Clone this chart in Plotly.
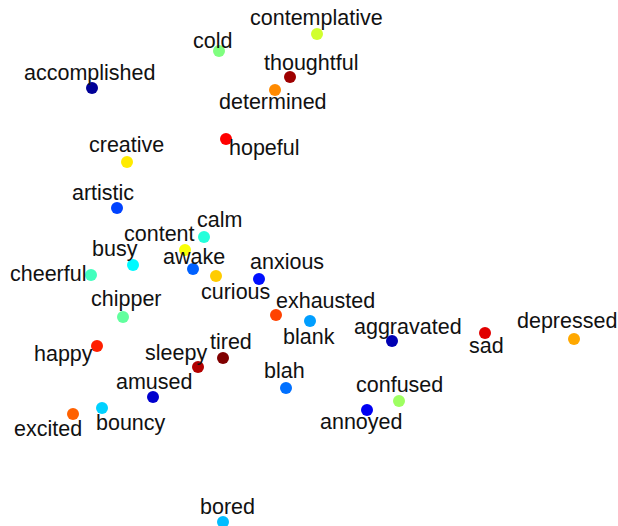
import plotly.graph_objects as go

# mood words, 2-d embedding coords and colour value (jet scale)
words = ["contemplative", "cold", "thoughtful", "determined", "accomplished",
         "hopeful", "creative", "artistic", "calm", "content", "busy", "awake",
         "curious", "anxious", "cheerful", "chipper", "exhausted", "blank",
         "aggravated", "sad", "depressed", "happy", "tired", "sleepy", "blah",
         "amused", "confused", "annoyed", "excited", "bouncy", "bored"]
x_vals = [0.08, -0.90, -0.19, -0.34, -2.17, -0.83, -1.82, -1.92, -1.05, -1.24,
          -1.76, -1.16, -0.93, -0.50, -2.18, -1.86, -0.33, 0.01, 0.83, 1.76,
          2.65, -2.12, -0.86, -1.11, -0.23, -1.56, 0.90, 0.58, -2.36, -2.07, -0.86]
y_vals = [2.29, 2.12, 1.86, 1.73, 1.75, 1.24, 1.01, 0.55, 0.26, 0.13,
          -0.02, -0.06, -0.13, -0.16, -0.12, -0.54, -0.52, -0.58, -0.78, -0.70,
          -0.76, -0.83, -0.95, -1.04, -1.25, -1.34, -1.38, -1.47, -1.51, -1.45, -2.59]
c_vals = [0.58, 0.50, 0.97, 0.74, 0.01, 0.875, 0.645, 0.19, 0.41, 0.62,
          0.37, 0.22, 0.675, 0.14, 0.44, 0.47, 0.81, 0.28, 0.04, 0.905,
          0.71, 0.845, 1.0, 0.95, 0.235, 0.07, 0.53, 0.11, 0.78, 0.33, 0.31]

# label offsets from each dot, in pixels (right, down)
label_dx = [-1, -7, 21, -2, -3, 38, -1, -14, 15, -26, -18, 1, 19, 28, -43, 3,
            49, -1, 16, 1, -7, -34, 8, -22, -2, 1, 0, -6, -25, 29, 4]
label_dy = [-16, -10, -14, 12, -15, 9, -17, -15, -17, -16, -16, -12, 16, -17, -1,
            -18, -14, 16, -14, 13, -18, 8, -16, -14, -17, -15, -16, 12, 15, 15, -15]

jet = [[0.0, "#00008f"], [0.125, "#0000ff"], [0.375, "#00ffff"],
       [0.625, "#ffff00"], [0.875, "#ff0000"], [1.0, "#800000"]]

fig = go.Figure(go.Scatter(
    x=x_vals, y=y_vals, mode="markers",
    marker=dict(size=12, color=c_vals, colorscale=jet, cmin=0, cmax=1,
                line=dict(width=0)),
    hovertext=words, hoverinfo="text"))

for w, xv, yv, dx, dy in zip(words, x_vals, y_vals, label_dx, label_dy):
    fig.add_annotation(x=xv, y=yv, text=w, showarrow=False,
                       xanchor="center", yanchor="middle",
                       xshift=dx, yshift=-dy,
                       font=dict(family="Liberation Sans, Arial", size=21.5, color="#111"))

fig.update_xaxes(range=[-3.09, 3.09], visible=False)
fig.update_yaxes(range=[-2.63, 2.63], visible=False)
fig.update_layout(width=618, height=526, margin=dict(l=0, r=0, t=0, b=0),
                  plot_bgcolor="white", paper_bgcolor="white", showlegend=False)

# drop the page margin and scrollbars so the figure fills the window
fig.write_html("out.html", config={"displayModeBar": False},
               post_script="document.body.style.margin='0';"
                           "document.body.style.overflow='hidden';")
